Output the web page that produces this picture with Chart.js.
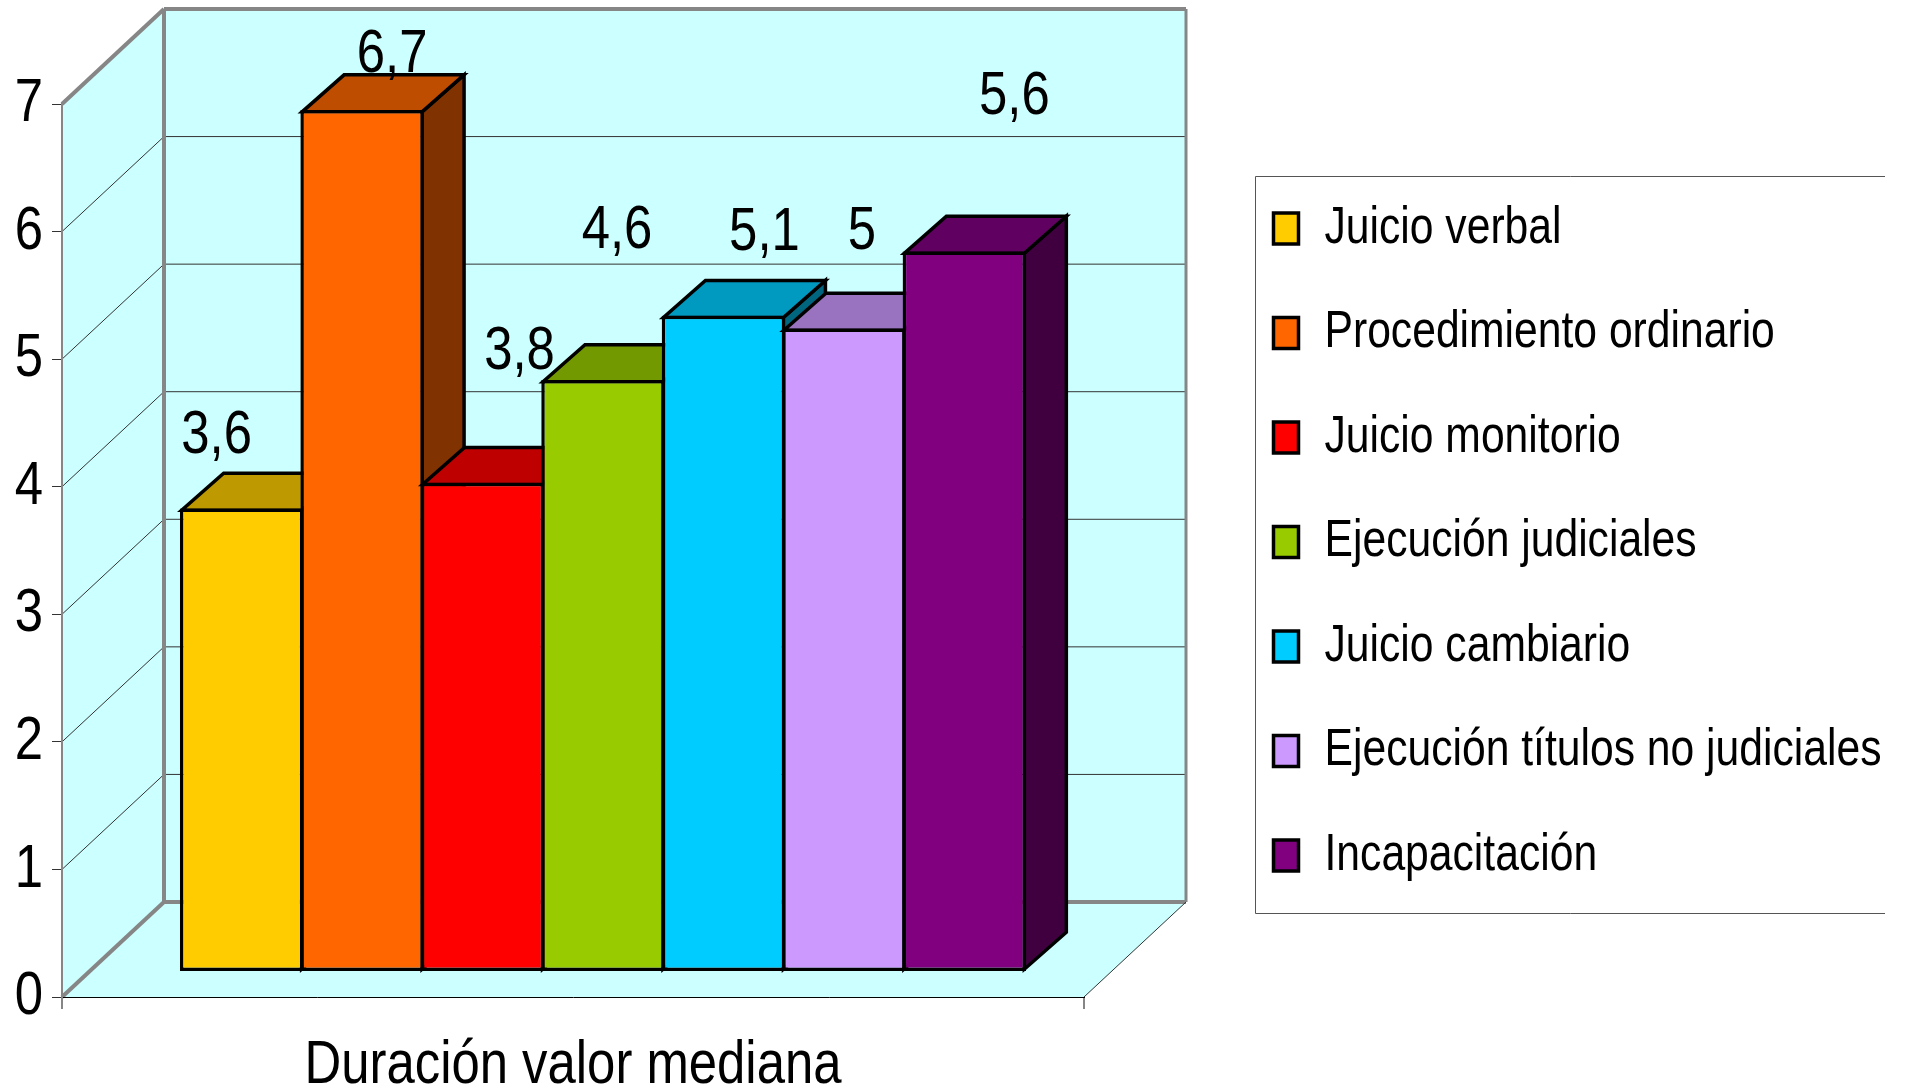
<!DOCTYPE html>
<html>
<head>
<meta charset="utf-8"/>
<title>Duración valor mediana</title>
<style>
html, body { margin: 0; padding: 0; background: #fff; }
canvas { display: block; }
</style>
<script src="https://cdn.jsdelivr.net/npm/chart.js@4"></script>
</head>
<body>
<canvas id="result" width="1905" height="1087"></canvas>
<script>
var groupLabel = ['Duración valor mediana'];
var seriesNames = ['Juicio verbal', 'Procedimiento ordinario', 'Juicio monitorio', 'Ejecución judiciales', 'Juicio cambiario', 'Ejecución títulos no judiciales', 'Incapacitación'];
var seriesValues = [3.6, 6.7, 3.8, 4.6, 5.1, 5, 5.6];
var seriesColors = ['#ffcc00', '#ff6600', '#ff0000', '#99cc00', '#00ccff', '#cc99ff', '#800080'];

var FONT = '"Liberation Sans", Arial, sans-serif';
var WALL = '#ccffff', FRAME = '#868686', GRID = '#333333';

// wall depth, bar position inside the box, bar depth
var wallDx = 102, wallDy = 95, barDx = 30, barDy = 26, boxDx = 42, boxDy = 37;
// hand placed labels, offset from the top of the front face
var labelOffsets = [[-25, -73], [30, -55], [37, -131], [14, -149], [41, -83], [18, -97], [50, -155]];

// the source text is condensed, no narrow face is installed so squeeze it
var TEXT_SQUEEZE = 0.82;
var canvas = document.getElementById('result');
var c2d = canvas.getContext('2d');
var baseFill = c2d.fillText, baseMeasure = c2d.measureText;
c2d.fillText = function (t, x, y) {
  this.save();
  this.scale(TEXT_SQUEEZE, 1);
  baseFill.call(this, t, x / TEXT_SQUEEZE, y);
  this.restore();
};
c2d.measureText = function (t) {
  return { width: baseMeasure.call(this, t).width * TEXT_SQUEEZE };
};

function shade(hex, k) {
  var n = parseInt(hex.slice(1), 16);
  return 'rgb(' + Math.round((n >> 16) * k) + ',' + Math.round(((n >> 8) & 255) * k) + ',' + Math.round((n & 255) * k) + ')';
}

function poly(ctx, pts, fill) {
  ctx.beginPath();
  pts.forEach(function (p, i) { if (i) ctx.lineTo(p[0], p[1]); else ctx.moveTo(p[0], p[1]); });
  ctx.closePath();
  if (fill) { ctx.fillStyle = fill; ctx.fill(); }
}

function line(ctx, x1, y1, x2, y2, color, w) {
  ctx.beginPath();
  ctx.moveTo(x1, y1);
  ctx.lineTo(x2, y2);
  ctx.strokeStyle = color;
  ctx.lineWidth = w;
  ctx.stroke();
}

var box3d = {
  id: 'box3d',
  afterLayout: function (chart) {
    // legend sits in its own frame, not flush to the canvas
    chart.legend.left = 1221;
    chart.legend.right = 1905;
    chart.legend.top = 150;
  },
  beforeDraw: function (chart) {
    var ctx = chart.ctx, a = chart.chartArea, y = chart.scales.y;
    ctx.save();
    // back wall, side wall, floor
    poly(ctx, [[a.left + wallDx, a.top - wallDy], [a.right + wallDx, a.top - wallDy], [a.right + wallDx, a.bottom - wallDy], [a.left + wallDx, a.bottom - wallDy]], WALL);
    poly(ctx, [[a.left, a.top], [a.left + wallDx, a.top - wallDy], [a.left + wallDx, a.bottom - wallDy], [a.left, a.bottom]], WALL);
    poly(ctx, [[a.left, a.bottom], [a.left + wallDx, a.bottom - wallDy], [a.right + wallDx, a.bottom - wallDy], [a.right, a.bottom]], WALL);
    // grid lines follow the wall
    y.ticks.forEach(function (t) {
      var py = y.getPixelForValue(t.value);
      if (t.value > 0 && t.value < 7) {
        line(ctx, a.left, py, a.left + wallDx, py - wallDy, GRID, 1);
        line(ctx, a.left + wallDx, py - wallDy, a.right + wallDx, py - wallDy, GRID, 1);
      }
    });
    // frame
    line(ctx, a.left, a.top, a.left + wallDx, a.top - wallDy, FRAME, 4);
    line(ctx, a.left + wallDx, a.top - wallDy, a.right + wallDx, a.top - wallDy, FRAME, 4);
    line(ctx, a.right + wallDx, a.top - wallDy, a.right + wallDx, a.bottom - wallDy, FRAME, 3);
    line(ctx, a.left + wallDx, a.top - wallDy, a.left + wallDx, a.bottom - wallDy, FRAME, 4);
    line(ctx, a.left, a.bottom, a.left + wallDx, a.bottom - wallDy, FRAME, 4);
    line(ctx, a.left + wallDx, a.bottom - wallDy, a.right + wallDx, a.bottom - wallDy, FRAME, 4);
    line(ctx, a.right, a.bottom, a.right + wallDx, a.bottom - wallDy, GRID, 1);
    // stubs under the axis
    line(ctx, a.left, a.bottom, a.left, a.bottom + 12, FRAME, 2);
    line(ctx, a.right, a.bottom, a.right, a.bottom + 12, FRAME, 2);
    // legend frame
    ctx.beginPath();
    ctx.moveTo(1885, 176.5);
    ctx.lineTo(1255.5, 176.5);
    ctx.lineTo(1255.5, 913.5);
    ctx.lineTo(1885, 913.5);
    ctx.strokeStyle = '#555555';
    ctx.lineWidth = 1;
    ctx.stroke();
    ctx.restore();
  },
  beforeDatasetsDraw: function (chart) {
    var ctx = chart.ctx;
    var metas = chart.getSortedVisibleDatasetMetas();
    ctx.save();
    ctx.translate(barDx, -barDy);
    ctx.lineJoin = 'miter';
    // left to right, each box paints over the one before it
    metas.forEach(function (meta) {
      var el = meta.data[0].getProps(['x', 'y', 'base', 'width'], true);
      var color = seriesColors[meta.index];
      var l = el.x - el.width / 2 + 1.75, r = el.x + el.width / 2 - 1.75, t = el.y + 1.75, b = el.base - 1.75;
      ctx.strokeStyle = '#000';
      ctx.lineWidth = 3.5;
      poly(ctx, [[r, t], [r + boxDx, t - boxDy], [r + boxDx, b - boxDy], [r, b]], shade(color, 0.5));
      ctx.stroke();
      poly(ctx, [[l, t], [r, t], [r + boxDx, t - boxDy], [l + boxDx, t - boxDy]], shade(color, 0.75));
      ctx.stroke();
      meta.controller.draw();
    });
    ctx.restore();

    // value labels go over the boxes
    ctx.save();
    ctx.fillStyle = '#000';
    ctx.font = '62px ' + FONT;
    ctx.textAlign = 'center';
    ctx.textBaseline = 'middle';
    metas.forEach(function (meta) {
      var el = meta.data[0].getProps(['x', 'y'], true);
      var off = labelOffsets[meta.index];
      var txt = String(seriesValues[meta.index]).replace('.', ',');
      ctx.fillText(txt, el.x + barDx + off[0], el.y - barDy + off[1]);
    });
    ctx.restore();
    return false;
  }
};

var datasets = [];
for (var i = 0; i < seriesNames.length; i++) {
  datasets.push({
    label: seriesNames[i],
    data: [seriesValues[i]],
    yAxisID: 'yBars',
    backgroundColor: seriesColors[i],
    borderColor: '#000',
    borderWidth: 3.5,
    borderSkipped: false,
    categoryPercentage: 0.825,
    barPercentage: 1.025
  });
}

new Chart(canvas, {
  type: 'bar',
  data: { labels: groupLabel, datasets: datasets },
  options: {
    responsive: false,
    animation: false,
    layout: { padding: { top: 104, right: 171, left: 0, bottom: 0 } },
    plugins: {
      tooltip: { enabled: false },
      legend: {
        position: 'right',
        align: 'start',
        maxWidth: 650,
        labels: {
          color: '#000',
          font: { family: FONT, size: 52 },
          boxWidth: 25,
          boxHeight: 31,
          padding: 52.5
        }
      }
    },
    scales: {
      x: {
        afterFit: function (s) { s.height = 90; },
        grid: { display: false },
        border: { color: '#000', width: 1 },
        ticks: { color: '#000', padding: 24, font: { family: FONT, size: 62 } }
      },
      y: {
        min: 0,
        max: 7,
        afterFit: function (s) { s.width = 62; },
        grid: { drawOnChartArea: false, color: GRID, tickLength: 10 },
        border: { color: FRAME, width: 2 },
        ticks: { stepSize: 1, color: '#000', padding: 9, font: { family: FONT, size: 62 } }
      },
      // the boxes run very slightly taller than the printed axis
      yBars: { display: false, min: 0, max: 6.95 }
    }
  },
  plugins: [box3d]
});
</script>
</body>
</html>
